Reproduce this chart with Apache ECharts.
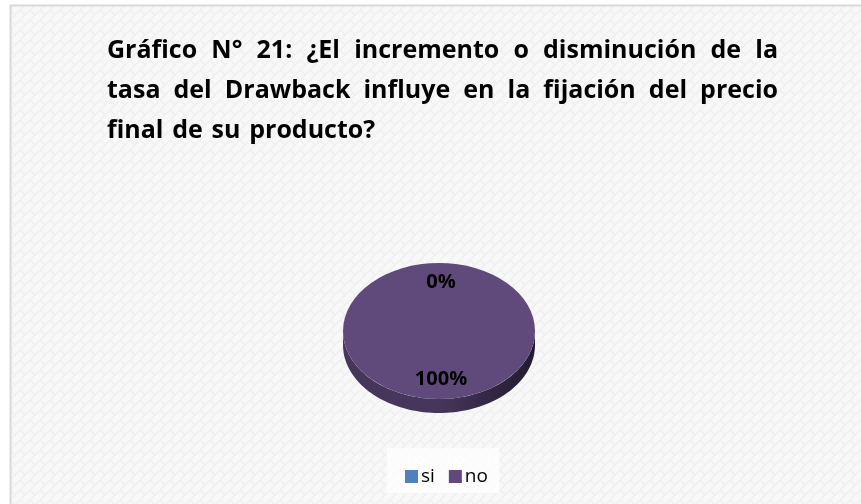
<!DOCTYPE html>
<html>
<head>
<meta charset="utf-8">
<script src="https://cdn.jsdelivr.net/npm/echarts@6/dist/echarts.min.js"></script>
<style>
html,body{margin:0;padding:0;background:#ffffff;}
#chart{width:861px;height:504px;}
</style>
</head>
<body>
<div id="chart"></div>
<script>
const categories = ['si', 'no'];
const values = [0, 100];
const colors = ['#4F81BD', '#604A7B'];
const sideColors = [['#3A6190', '#2A4768'], ['#46365C', '#231a30']];
const titleLines = [
  'Gráfico N° 21: ¿El incremento o disminución de la',
  'tasa del Drawback influye en la fijación del precio',
  'final de su producto?'
];

const FONT = '"Open Sans", "DejaVu Sans", sans-serif';
const TITLE_SIZE = 25;
const total = values.reduce((a, b) => a + b, 0);

// pie geometry
const CX = 439, CY = 331, RX = 96, RY = 68, DEPTH = 14;

// background pattern
const pat = document.createElement('canvas');
pat.width = 10; pat.height = 10;
(function () {
  const c = pat.getContext('2d');
  c.fillStyle = '#f8f8f8'; c.fillRect(0, 0, 10, 10);
  c.strokeStyle = '#efefef'; c.lineWidth = 1.5;
  c.beginPath(); c.moveTo(0, 10); c.lineTo(10, 0); c.stroke();
  c.beginPath(); c.moveTo(0, 0); c.lineTo(5, 5); c.stroke();
})();

// justified title
const mctx = document.createElement('canvas').getContext('2d');
mctx.font = 'bold ' + TITLE_SIZE + 'px ' + FONT;
const TX0 = 107, TX1 = 778, TY0 = 57, TLH = 40;
const titleEls = [];
titleLines.forEach((line, li) => {
  const words = line.split(' ');
  const widths = words.map(w => mctx.measureText(w).width);
  const sum = widths.reduce((a, b) => a + b, 0);
  const justify = li < titleLines.length - 1;
  const gap = justify ? (TX1 - TX0 - sum) / (words.length - 1) : mctx.measureText(' ').width * 1.35;
  let x = TX0;
  words.forEach((w, i) => {
    titleEls.push({
      type: 'text', x: x, y: TY0 + li * TLH + 6, z: 10,
      style: { text: w, fill: '#000', font: 'bold ' + TITLE_SIZE + 'px ' + FONT, verticalAlign: 'bottom' }
    });
    x += widths[i] + gap;
  });
});

function sliceAngles(idx) {
  let prev = 0;
  for (let i = 0; i < idx; i++) prev += values[i];
  const a0 = -Math.PI / 2 + 2 * Math.PI * prev / total;
  const a1 = a0 + 2 * Math.PI * values[idx] / total;
  return [a0, a1];
}

function renderSlice(idx) {
  return function (params, api) {
    const v = api.value(0);
    const [a0, a1] = sliceAngles(idx);
    const children = [];
    const segs = [];
    [[0, Math.PI], [2 * Math.PI, 3 * Math.PI], [-2 * Math.PI, -Math.PI]].forEach(r => {
      const s = Math.max(a0, r[0]), e = Math.min(a1, r[1]);
      if (e > s) segs.push([s, e]);
    });
    segs.forEach(([s, e]) => {
      const pts = [];
      const N = 80;
      for (let k = 0; k <= N; k++) {
        const t = s + (e - s) * k / N;
        pts.push([CX + RX * Math.cos(t), CY + RY * Math.sin(t)]);
      }
      for (let k = N; k >= 0; k--) {
        const t = s + (e - s) * k / N;
        pts.push([CX + RX * Math.cos(t), CY + RY * Math.sin(t) + DEPTH]);
      }
      children.push({
        type: 'polygon', z2: 1,
        shape: { points: pts },
        style: {
          fill: new echarts.graphic.LinearGradient(0, 0, 1, 0, [
            { offset: 0, color: sideColors[idx][0] },
            { offset: 0.5, color: sideColors[idx][0] },
            { offset: 1, color: sideColors[idx][1] }
          ], false)
        }
      });
    });
    if (v > 0) {
      children.push({
        type: 'sector', z2: 2,
        x: CX, y: CY, scaleX: 1, scaleY: RY / RX,
        shape: { cx: 0, cy: 0, r0: 0, r: RX, startAngle: a0, endAngle: a1, clockwise: true },
        style: { fill: colors[idx] }
      });
    }
    const mid = (a0 + a1) / 2;
    const rl = 0.71;
    children.push({
      type: 'text', z2: 5,
      x: CX + RX * rl * Math.cos(mid) + 2,
      y: CY + RY * rl * Math.sin(mid),
      style: {
        text: Math.round(v / total * 100) + '%',
        fill: '#000', font: 'bold 20px ' + FONT,
        align: 'center', verticalAlign: 'middle'
      }
    });
    return { type: 'group', children: children };
  };
}

const series = categories.map((name, i) => ({
  type: 'custom',
  name: name,
  coordinateSystem: 'none',
  itemStyle: { color: colors[i] },
  data: [[values[i]]],
  renderItem: renderSlice(i),
  animation: false,
  silent: true
}));

const chart = echarts.init(document.getElementById('chart'), null, { renderer: 'canvas' });
chart.setOption({
  animation: false,
  backgroundColor: '#ffffff',
  graphic: [
    {
      type: 'rect', z: -10,
      shape: { x: 10.5, y: 5.5, width: 900, height: 600 },
      style: { fill: { image: pat, repeat: 'repeat' }, stroke: '#d9d9d9', lineWidth: 2 }
    },
    {
      type: 'rect', z: -5,
      shape: { x: 387, y: 448, width: 112, height: 45 },
      style: { fill: 'rgba(255,255,255,0.75)' }
    }
  ].concat(titleEls),
  legend: {
    data: categories,
    left: 400, top: 462,
    icon: 'rect',
    itemWidth: 13, itemHeight: 13, itemGap: 14,
    textStyle: { fontSize: 19, color: '#000', fontFamily: FONT, padding: [0, 0, 0, -2] },
    selectedMode: false
  },
  series: series
});
</script>
</body>
</html>
